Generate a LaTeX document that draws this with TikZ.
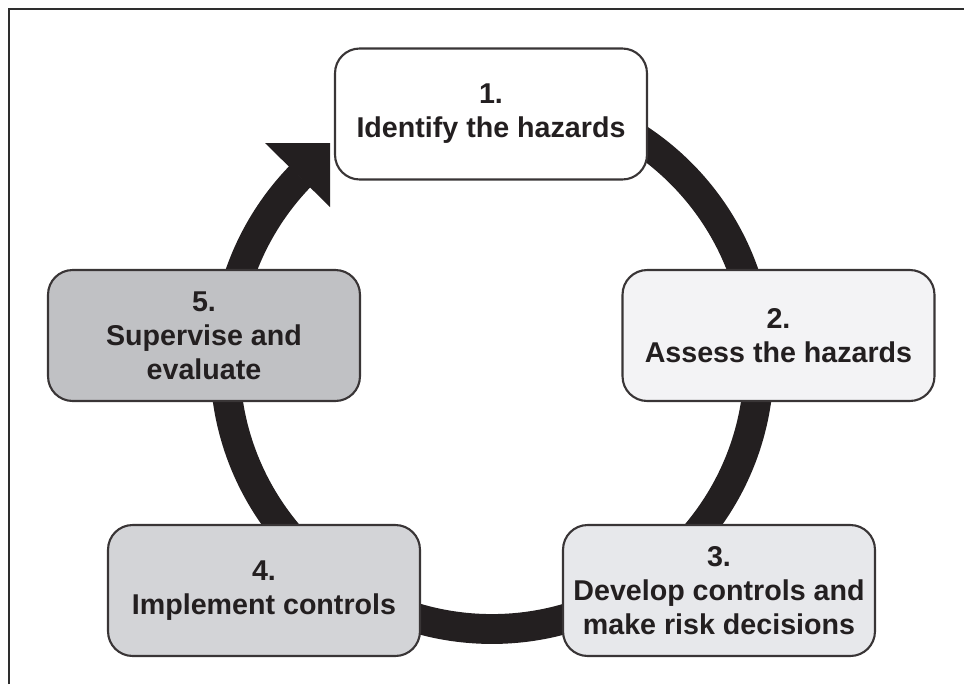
\documentclass[tikz,border=0pt]{standalone}
\usepackage{fontspec}
\setmainfont{Liberation Sans}
\usetikzlibrary{calc}
\definecolor{ringblack}{HTML}{231F20}
\definecolor{framegray}{HTML}{2E2E2E}
\definecolor{fillA}{HTML}{FFFFFF}
\definecolor{fillB}{HTML}{F3F3F5}
\definecolor{fillC}{HTML}{E7E8EB}
\definecolor{fillD}{HTML}{D3D4D7}
\definecolor{fillE}{HTML}{C0C1C4}
\tikzset{
	stage/.style={draw=ringblack!90, line width=1.2pt, rounded corners=14pt,
		minimum width=6.24cm, minimum height=2.62cm, align=center, inner sep=0pt,
		text=ringblack, font=\bfseries\fontsize{16.3}{19.3}\selectfont},
	band/.style={draw=ringblack, line width=17pt}
}
\begin{document}
\begin{tikzpicture}[x=0.02cm, y=-0.02cm]
	\useasboundingbox (0,0) rectangle (964,684);
	\coordinate (c) at (492,362);
	\coordinate (tip) at (330,143);
		\draw[band] ($(c)+(270:267)$) arc[start angle=270, end angle=584, radius=267];
		\fill[ringblack] (tip) -- ++(-65,0) -- ++(65,64) -- cycle;
	\node[stage, fill=fillA] (s1) at (491,114) {1.\\Identify the hazards};
	\node[stage, fill=fillB] (s2) at (778.5,335.5) {2.\\Assess the hazards};
	\node[stage, fill=fillC] (s3) at (719,590.5) {3.\\Develop controls and\\make risk decisions};
	\node[stage, fill=fillD] (s4) at (264,590.5) {4.\\Implement controls};
	\node[stage, fill=fillE] (s5) at (204,335.5) {5.\\Supervise and\\evaluate};
		\draw[framegray, line width=1.7pt] (9,684) -- (9,9) -- (964,9);
\end{tikzpicture}
\end{document}
